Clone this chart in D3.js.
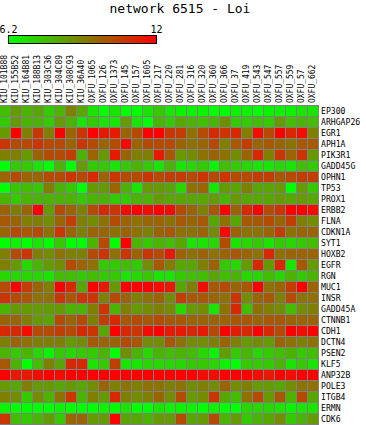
<!DOCTYPE html>
<html>
<head>
<meta charset="utf-8">
<script src="https://d3js.org/d3.v7.min.js"></script>
<style>
  body { margin: 0; background: #fff; }
  text { font-family: "DejaVu Sans Mono", monospace; fill: #000; }
</style>
</head>
<body>
<svg width="366" height="425"></svg>
<script>

var samples = ["KIU_101B88","KIU_155B52","KIU_164B81","KIU_188B13","KIU_303C36","KIU_304C89",
  "KIU_308C93","KIU_36A40","OXFU_1065","OXFU_126","OXFU_1373","OXFU_145","OXFU_157",
  "OXFU_1605","OXFU_217","OXFU_220","OXFU_281","OXFU_316","OXFU_320","OXFU_360","OXFU_366",
  "OXFU_37","OXFU_419","OXFU_543","OXFU_547","OXFU_557","OXFU_559","OXFU_57","OXFU_662"];

var genes = ["EP300","ARHGAP26","EGR1","APH1A","PIK3R1","GADD45G","OPHN1","TP53","PROX1",
  "ERBB2","FLNA","CDKN1A","SYT1","HOXB2","EGFR","RGN","MUC1","INSR","GADD45A","CTNNB1",
  "CDH1","DCTN4","PSEN2","KLF5","ANP32B","POLE3","ITGB4","ERMN","CDK6"];

var scaleMin = 6.2, scaleMax = 12;

// one row per gene, one value per sample
var values = [
  [7.7,8.5,7.9,8.2,7.4,7.9,9.1,8.2,6.8,6.2,6.8,6.2,6.2,6.8,7.4,6.8,6.5,6.5,6.5,6.2,6.2,6.5,6.5,6.2,6.5,6.5,6.5,6.8,6.8], // EP300
  [7.4,8.5,7.9,7.9,7.4,8.5,7.9,6.8,7.4,6.8,6.8,8.5,6.8,6.2,7.9,7.4,8.2,7.9,7.7,7.9,8.8,7.4,7.4,7.7,7.4,8.5,7.7,7.9,7.7], // ARHGAP26
  [8.5,12.0,9.1,10.8,9.1,12.0,9.7,10.8,12.0,11.4,11.4,9.7,10.3,12.0,12.0,10.8,10.6,9.4,10.3,11.1,10.8,11.1,9.1,11.7,10.3,12.0,11.1,11.7,9.1], // EGR1
  [10.8,10.3,10.3,10.8,10.3,10.3,9.7,10.8,10.3,9.7,10.3,11.7,9.7,10.3,10.3,10.3,9.7,9.4,9.7,10.3,9.1,10.0,10.6,9.7,10.0,9.7,9.4,10.0,10.0], // APH1A
  [9.1,9.1,8.5,9.7,10.3,10.3,10.6,7.9,9.7,8.5,11.4,9.7,9.1,9.1,11.4,10.0,8.5,8.8,9.4,9.7,9.4,8.8,9.7,11.1,9.1,10.8,9.7,10.8,8.5], // PIK3R1
  [6.2,7.4,7.4,6.8,6.2,7.9,6.2,8.5,7.4,7.4,6.8,7.4,7.9,7.4,6.8,7.9,6.8,7.1,7.4,6.5,7.7,7.4,7.1,6.8,6.8,7.1,6.8,7.7,7.4], // GADD45G
  [9.7,10.3,9.7,9.7,10.3,10.3,10.8,10.3,11.1,9.7,10.8,10.3,10.3,10.8,10.3,10.6,10.6,10.3,10.8,10.3,10.8,10.3,10.3,10.6,10.6,10.0,10.3,10.6,10.6], // OPHN1
  [6.2,7.4,7.7,7.4,9.1,7.9,7.4,6.2,8.5,8.5,9.7,7.9,6.8,8.5,8.5,8.2,7.1,9.4,9.7,6.8,8.5,8.2,9.1,8.2,8.2,8.5,6.2,8.5,7.4], // TP53
  [7.9,7.4,7.9,7.9,7.9,7.9,7.9,7.4,7.9,7.9,7.4,7.4,7.9,7.9,8.5,8.2,8.2,8.2,8.2,8.5,7.9,8.5,8.2,8.2,8.2,8.5,8.2,8.5,8.2], // PROX1
  [9.7,9.1,9.7,12.0,8.5,10.3,9.7,9.1,10.3,11.1,10.8,11.7,12.0,11.7,12.0,11.7,10.3,9.7,9.1,10.0,12.0,9.7,11.1,12.0,10.3,10.8,12.0,12.0,11.7], // ERBB2
  [10.0,9.7,9.1,9.1,8.8,9.7,10.6,9.1,8.8,9.4,10.3,9.7,9.4,9.7,9.7,9.4,10.0,9.7,10.0,8.2,9.4,8.2,10.0,10.0,10.3,9.7,10.6,9.1,8.8], // FLNA
  [9.7,10.3,10.0,10.3,9.4,10.8,9.7,9.1,9.7,9.7,9.4,9.7,9.4,9.1,9.7,10.0,9.4,9.4,9.7,8.8,11.7,9.7,9.4,9.4,9.7,10.6,9.4,9.7,9.7], // CDKN1A
  [6.2,6.5,6.2,6.8,6.2,7.4,6.2,6.2,7.9,10.3,6.2,12.0,7.9,7.4,7.9,7.7,8.2,6.8,6.8,7.1,10.3,6.8,7.1,7.4,6.8,7.4,7.1,7.4,7.7], // SYT1
  [9.1,10.3,10.8,9.1,8.8,9.4,9.1,9.1,10.3,10.8,9.4,10.8,9.7,10.8,10.3,11.4,9.7,9.4,9.7,9.4,9.7,10.0,9.7,9.4,11.1,9.4,9.7,9.7,9.7], // HOXB2
  [9.1,8.5,7.1,7.9,8.5,8.8,10.3,9.7,9.4,7.4,7.4,7.7,7.4,8.8,10.0,9.1,8.2,8.2,9.1,9.7,7.4,7.1,8.5,11.1,8.5,11.1,6.8,10.0,8.5], // EGFR
  [7.1,7.1,7.1,7.1,6.8,7.7,7.7,7.4,7.7,7.4,7.4,6.8,7.1,7.4,6.8,6.8,7.4,7.7,7.7,8.2,7.7,7.9,7.1,7.1,7.7,7.1,7.9,7.4,7.9], // RGN
  [10.3,12.0,10.6,9.7,9.1,12.0,11.1,8.2,12.0,11.4,8.5,12.0,12.0,12.0,11.7,11.4,8.2,9.1,11.7,10.0,10.3,9.7,10.0,12.0,9.4,9.7,10.6,12.0,9.7], // MUC1
  [10.8,10.3,10.0,9.4,9.4,10.8,10.0,10.8,10.8,9.1,10.3,9.7,9.1,9.4,9.7,8.8,10.6,10.0,10.0,9.7,9.4,10.8,8.8,9.7,10.0,9.1,10.3,9.4,9.4], // INSR
  [7.9,8.5,8.5,8.5,8.5,8.5,7.9,7.9,9.1,10.8,7.9,9.1,8.5,8.8,9.1,8.8,7.1,8.5,8.8,6.8,9.4,11.1,7.7,9.4,9.1,8.8,7.7,8.8,9.1], // GADD45A
  [9.7,9.7,9.1,8.5,8.2,10.3,9.7,10.3,9.1,10.6,11.1,10.0,10.3,10.0,10.3,10.0,10.0,9.7,9.7,9.7,9.7,10.0,10.0,9.7,10.0,10.0,9.7,9.7,9.7], // CTNNB1
  [11.1,11.1,11.7,10.3,10.3,10.6,10.3,11.1,10.8,8.2,12.0,11.1,10.8,11.7,12.0,11.4,11.4,11.1,11.4,10.3,12.0,11.4,11.1,12.0,11.1,10.3,12.0,11.7,12.0], // CDH1
  [9.1,9.7,9.4,9.1,9.1,9.1,8.5,8.8,10.0,9.7,9.7,10.3,10.0,8.8,8.8,10.0,9.4,8.8,8.8,9.1,9.7,9.1,8.5,8.8,8.5,9.7,9.4,9.1,9.4], // DCTN4
  [7.9,7.4,7.9,7.1,6.5,7.4,7.1,7.4,7.4,7.9,6.2,8.8,7.9,7.1,7.9,7.7,7.9,7.7,7.1,6.5,8.5,7.4,7.9,7.1,7.4,7.7,7.9,7.4,7.7], // PSEN2
  [10.0,7.9,6.2,7.7,9.1,8.2,11.1,11.1,6.8,7.4,10.6,6.8,6.8,7.1,7.1,7.1,7.1,7.4,7.4,7.1,6.5,6.2,7.4,7.4,7.4,7.9,6.8,7.4,6.8], // KLF5
  [12.0,11.4,11.4,11.7,12.0,11.7,12.0,12.0,12.0,12.0,12.0,12.0,12.0,12.0,12.0,12.0,12.0,12.0,11.7,11.7,12.0,12.0,12.0,11.7,11.4,12.0,11.7,12.0,12.0], // ANP32B
  [8.5,8.2,9.1,8.5,8.5,8.2,8.5,8.2,8.8,9.7,9.1,9.4,9.1,9.4,9.4,9.1,9.4,8.8,9.1,8.8,9.7,8.8,9.1,8.5,8.5,8.2,8.8,9.4,9.4], // POLE3
  [9.1,8.8,7.4,8.8,7.9,9.4,10.8,7.9,9.1,8.5,11.1,9.1,8.8,9.1,9.7,8.8,10.3,8.5,8.8,10.8,8.2,7.7,9.4,10.3,8.5,10.0,7.9,10.3,8.2], // ITGB4
  [6.5,6.2,6.2,6.2,6.2,6.5,6.2,6.2,6.2,6.5,6.2,6.8,6.2,6.2,6.8,6.5,6.5,6.5,6.2,6.5,6.2,6.2,7.1,7.1,7.1,6.8,6.5,6.8,6.8], // ERMN
  [10.8,7.7,7.4,7.9,8.5,7.4,9.7,9.7,8.5,8.5,12.0,8.2,8.2,7.9,8.5,8.5,10.3,8.2,8.5,10.3,7.9,8.5,7.4,7.9,8.2,8.8,7.4,7.9,8.5]  // CDK6
];

var svg = d3.select("svg");

var x = d3.scaleBand().domain(samples).range([0, 318]).paddingInner(1 / 11);
var y = d3.scaleBand().domain(genes).range([106, 424]).paddingInner(1 / 11);

var color = d3.scaleLinear()
    .domain([scaleMin, scaleMax])
    .range(["#00ff00", "#ff0000"])
    .clamp(true);

// title
svg.append("text")
    .attr("x", 180)
    .attr("y", 13)
    .attr("text-anchor", "middle")
    .style("font-size", "13px")
    .text("network 6515 - Loi");

// colour legend
var grad = svg.append("defs").append("linearGradient")
    .attr("id", "legendGrad");
grad.append("stop").attr("offset", "0%").attr("stop-color", color(scaleMin));
grad.append("stop").attr("offset", "100%").attr("stop-color", color(scaleMax));

var lx = d3.scaleLinear().domain([scaleMin, scaleMax]).range([8.5, 156.5]);

svg.append("rect")
    .attr("x", lx(scaleMin))
    .attr("y", 35.5)
    .attr("width", lx(scaleMax) - lx(scaleMin))
    .attr("height", 8)
    .attr("fill", "url(#legendGrad)")
    .attr("stroke", "#000");

svg.selectAll(".legend-label")
    .data([scaleMin, scaleMax])
    .enter().append("text")
    .attr("class", "legend-label")
    .attr("x", d => lx(d))
    .attr("y", 33)
    .attr("text-anchor", "middle")
    .style("font-size", "10px")
    .text(d => d);

// grid background (gives the gray lines between cells)
svg.append("rect")
    .attr("x", 0)
    .attr("y", 105)
    .attr("width", 319)
    .attr("height", 320)
    .attr("fill", "#808080");

var cells = [];
values.forEach(function(row, i) {
    row.forEach(function(v, j) {
        cells.push({gene: genes[i], sample: samples[j], value: v});
    });
});

svg.append("g").selectAll("rect")
    .data(cells)
    .enter().append("rect")
    .attr("x", d => x(d.sample))
    .attr("y", d => y(d.gene))
    .attr("width", x.bandwidth())
    .attr("height", y.bandwidth())
    .attr("fill", d => color(d.value));

// sample labels, vertical
svg.append("g").selectAll("text")
    .data(samples)
    .enter().append("text")
    .attr("transform", d => "translate(" + (x(d) + 7) + ",103) rotate(-90)")
    .attr("textLength", d => d.length * 4.8)
    .attr("lengthAdjust", "spacingAndGlyphs")
    .style("font-size", "8px")
    .text(d => d);

// gene labels on the right
svg.append("g").selectAll("text")
    .data(genes)
    .enter().append("text")
    .attr("x", 321)
    .attr("y", d => y(d) + y.bandwidth() / 2 + 3)
    .attr("textLength", d => d.length * 4.9)
    .attr("lengthAdjust", "spacingAndGlyphs")
    .style("font-size", "8px")
    .text(d => d);

</script>
</body>
</html>
